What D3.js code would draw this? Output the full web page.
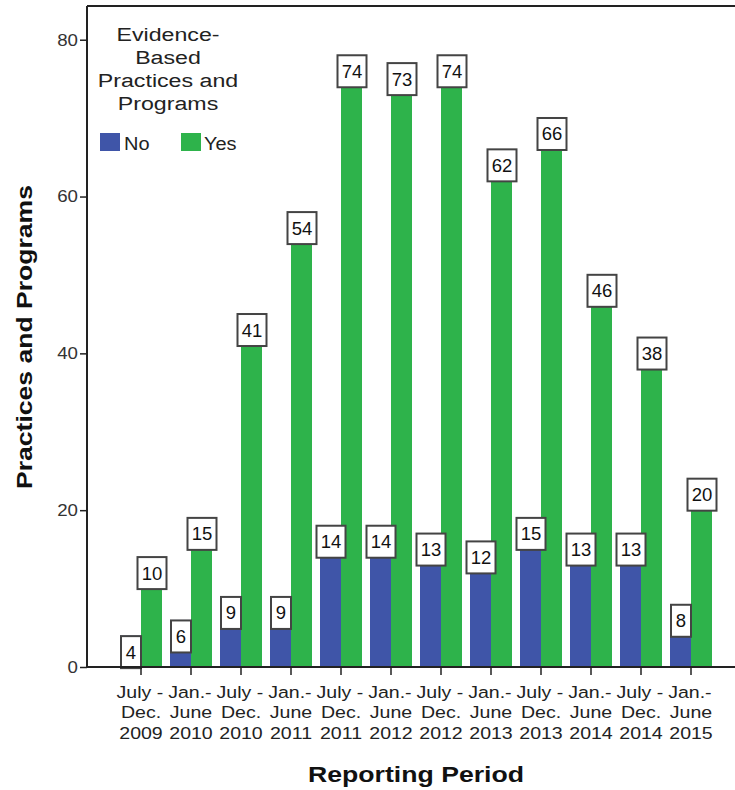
<!DOCTYPE html>
<html>
<head>
<meta charset="utf-8">
<script src="https://cdn.jsdelivr.net/npm/d3@7"></script>
<style>
  body { margin: 0; background: #fff; }
  svg { display: block; font-family: "Liberation Sans", Arial, sans-serif; }
</style>
</head>
<body>
<svg id="chart" width="735" height="790"></svg>
<script>
const periods = [
  ["July -", "Dec.", "2009"], ["Jan.-", "June", "2010"],
  ["July -", "Dec.", "2010"], ["Jan.-", "June", "2011"],
  ["July -", "Dec.", "2011"], ["Jan.-", "June", "2012"],
  ["July -", "Dec.", "2012"], ["Jan.-", "June", "2013"],
  ["July -", "Dec.", "2013"], ["Jan.-", "June", "2014"],
  ["July -", "Dec.", "2014"], ["Jan.-", "June", "2015"]
];
const seriesNames = ["No", "Yes"];
const noValues  = [4, 6, 9, 9, 14, 14, 13, 12, 15, 13, 13, 8];
const yesValues = [10, 15, 41, 54, 74, 73, 74, 62, 66, 46, 38, 20];
const yTicks = [0, 20, 40, 60, 80];
const legendTitle = ["Evidence-", "Based", "Practices and", "Programs"];
const colors = { No: "#3F55A8", Yes: "#2EB34B" };

const svg = d3.select("#chart");
const plotLeft = 87, plotTop = 6, plotRight = 735, baseY = 667;

// horizontal stretch around an anchor x (text rendering in the reference is wide)
function hStretch(sel, k, ax) {
  sel.attr("transform", function() {
    const x = ax !== undefined ? ax : +(d3.select(this).attr("x") || 0);
    return `translate(${x},0) scale(${k},1) translate(${-x},0)`;
  });
}

const keys = periods.map((p, i) => i);
const x = d3.scaleBand().domain(keys).range([116, 716]).padding(0);
const xs = d3.scaleBand().domain(seriesNames).range([4, 46]).padding(0);
const y = d3.scaleLinear().domain([0, 84.3]).range([baseY, plotTop]);

const data = keys.map(i => ({ i, No: noValues[i], Yes: yesValues[i] }));

// bars
const g = svg.append("g");
const groups = g.selectAll("g.grp").data(data).join("g")
  .attr("transform", d => `translate(${x(d.i)},0)`);
groups.selectAll("rect").data(d => seriesNames.map(k => ({ k, v: d[k] })))
  .join("rect")
  .attr("x", d => xs(d.k))
  .attr("width", xs.bandwidth())
  .attr("y", d => y(d.v))
  .attr("height", d => y(0) - y(d.v))
  .attr("fill", d => colors[d.k]);

// frame top line
svg.append("line").attr("x1", plotLeft).attr("x2", plotRight).attr("y1", plotTop).attr("y2", plotTop)
  .attr("stroke", "#222").attr("stroke-width", 2);

// y axis
const yAxis = d3.axisLeft(y).tickValues(yTicks).tickSize(7).tickPadding(2);
const ya = svg.append("g").attr("transform", `translate(${plotLeft},0)`).call(yAxis);
ya.select(".domain").attr("d", `M0,${plotTop}V${baseY}`).attr("stroke", "#222").attr("stroke-width", 2);
ya.selectAll(".tick line").attr("stroke", "#222").attr("stroke-width", 1.5);
ya.selectAll(".tick text").attr("font-size", 17).attr("fill", "#333")
  .attr("font-family", "'Liberation Sans', Arial, sans-serif");
hStretch(ya.selectAll(".tick text"), 1.1, -9);

// x axis
const xAxis = d3.axisBottom(x).tickSize(8).tickFormat(() => "");
const xa = svg.append("g").attr("transform", `translate(0,${baseY})`).call(xAxis);
xa.select(".domain").attr("d", `M${plotLeft},0H${plotRight}`).attr("stroke", "#222").attr("stroke-width", 2);
xa.selectAll(".tick line").attr("stroke", "#222").attr("stroke-width", 1.5);
xa.selectAll(".tick").each(function(d) {
  const t = d3.select(this).select("text")
    .attr("y", 0).attr("dy", null)
    .attr("font-size", 17).attr("fill", "#222")
    .attr("font-family", "'Liberation Sans', Arial, sans-serif");
  periods[d].forEach((line, li) => {
    t.append("tspan").attr("x", li === 0 ? -1 : 0).attr("y", 31 + li * 20.5).text(line);
  });
  hStretch(t, 1.15, 0);
});

// value labels
groups.each(function(d) {
  const grp = d3.select(this);
  seriesNames.forEach(k => {
    const v = d[k];
    const label = String(v);
    const w = label.length > 1 ? 29 : 20;
    const h = 32;
    const cx = xs(k) + xs.bandwidth() / 2;
    const inside = k === "No" && v < 10;
    const top = inside ? y(v) : y(v) - h;
    grp.append("rect")
      .attr("x", cx - w / 2 + 0.5).attr("y", top + 0.5)
      .attr("width", w).attr("height", h)
      .attr("fill", "#fff").attr("stroke", "#444").attr("stroke-width", 2);
    grp.append("text")
      .attr("x", cx + 0.5).attr("y", top + h / 2 + 7)
      .attr("text-anchor", "middle")
      .attr("font-size", 18.5).attr("fill", "#111")
      .text(label);
  });
});

// legend
const lg = svg.append("g");
const lt = lg.selectAll("text.lt").data(legendTitle).join("text")
  .attr("class", "lt")
  .attr("x", 168).attr("y", (d, i) => 41 + i * 23)
  .attr("text-anchor", "middle").attr("font-size", 19).attr("fill", "#222")
  .text(d => d);
hStretch(lt, 1.22, 168);
const legItems = [{ k: "No", x: 100, tx: 124 }, { k: "Yes", x: 181, tx: 204 }];
lg.selectAll("rect").data(legItems).join("rect")
  .attr("x", d => d.x).attr("y", 133).attr("width", 20).attr("height", 18)
  .attr("fill", d => colors[d.k]);
const li = lg.selectAll("text.li").data(legItems).join("text")
  .attr("class", "li")
  .attr("x", d => d.tx).attr("y", 150)
  .attr("font-size", 18.5).attr("fill", "#222")
  .text(d => d.k);
hStretch(li, 1.08);

// axis titles
svg.append("text")
  .attr("transform", `translate(32,337) rotate(-90)`)
  .attr("text-anchor", "middle").attr("font-size", 22.5).attr("font-weight", "bold").attr("fill", "#111")
  .attr("textLength", 304).attr("lengthAdjust", "spacingAndGlyphs")
  .text("Practices and Programs");
svg.append("text")
  .attr("x", 416).attr("y", 782)
  .attr("text-anchor", "middle").attr("font-size", 22.5).attr("font-weight", "bold").attr("fill", "#111")
  .attr("textLength", 216).attr("lengthAdjust", "spacingAndGlyphs")
  .text("Reporting Period");
</script>
</body>
</html>
